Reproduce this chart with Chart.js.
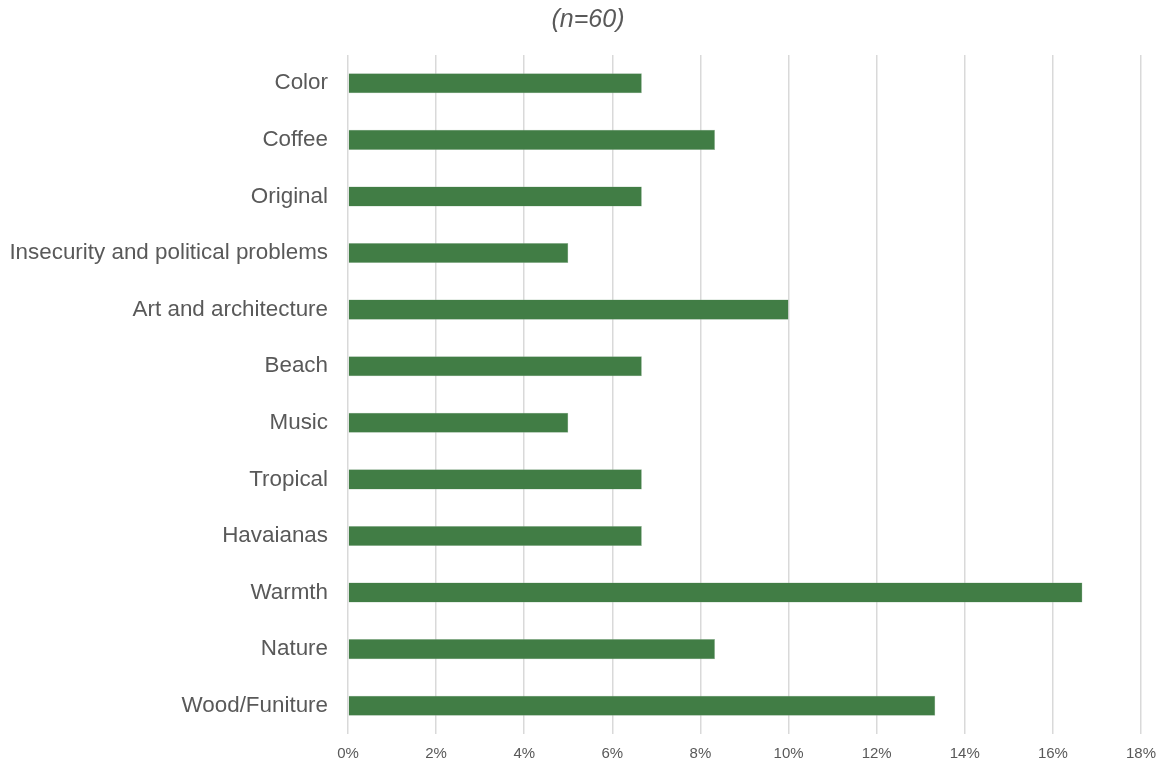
<!DOCTYPE html>
<html>
<head>
<meta charset="utf-8">
<script src="https://cdn.jsdelivr.net/npm/chart.js@4/dist/chart.umd.min.js"></script>
<style>
	html, body { margin: 0; padding: 0; background: #fff; }
	#wrap { width: 1160px; height: 765px; }
</style>
</head>
<body>
<div id="wrap"><canvas id="cnvChart"></canvas></div>
<script>
var categorias = ["Color", "Coffee", "Original", "Insecurity and political problems", "Art and architecture", "Beach", "Music", "Tropical", "Havaianas", "Warmth", "Nature", "Wood/Funiture"];
var porcentajes = [6.67, 8.33, 6.67, 5.0, 10.0, 6.67, 5.0, 6.67, 6.67, 16.67, 8.33, 13.33];
var ticksX = [0, 2, 4, 6, 8, 10, 12, 14, 16, 18];
var titulo = "(n=60)";

var gris = "#595959";

// titulo dibujado a mano para poder correrlo un poco a la derecha
var pluginTitulo = {
	id: "tituloN",
	afterDraw: function(chart){
		var ctx = chart.ctx;
		ctx.save();
		ctx.fillStyle = gris;
		ctx.font = "italic 25px 'Liberation Sans', Arial, sans-serif";
		ctx.textAlign = "center";
		ctx.textBaseline = "middle";
		ctx.fillText(titulo, 588, 20);
		ctx.restore();
	}
};

new Chart(document.getElementById("cnvChart").getContext("2d"), {
	type: "bar",
	data: {
		labels: categorias,
		datasets: [{
			label: "Share",
			data: porcentajes,
			backgroundColor: "#417D45",
			borderColor: "#9dbb9f",
			borderWidth: 0.5,
			categoryPercentage: 1,
			barPercentage: 0.355
		}]
	},
	plugins: [pluginTitulo],
	options: {
		indexAxis: "y",
		responsive: true,
		maintainAspectRatio: false,
		animation: false,
		layout: { padding: { left: 0, right: 19, top: 55, bottom: 0 } },
		plugins: {
			legend: { display: false },
			tooltip: { enabled: false },
			title: { display: false }
		},
		scales: {
			x: {
				min: 0,
				max: 18,
				afterBuildTicks: function(scale){
					scale.ticks = ticksX.map(function(v){ return { value: v }; });
				},
				afterFit: function(scale){
					scale.height = 31;
					scale.paddingLeft = 0;
					scale.paddingRight = 0;
				},
				grid: { color: "#d9d9d9", lineWidth: 1.5, drawTicks: false },
				border: { display: false },
				ticks: {
					color: gris,
					padding: 11,
					maxRotation: 0,
					font: { family: "'Liberation Sans', Arial, sans-serif", size: 15 },
					callback: function(v){ return v + "%"; }
				}
			},
			y: {
				grid: { display: false, drawTicks: false },
				border: { display: false },
				afterFit: function(scale){
					scale.width = 348;
					scale.paddingTop = 0;
					scale.paddingBottom = 0;
				},
				ticks: {
					color: gris,
					padding: 20,
					font: { family: "'Liberation Sans', Arial, sans-serif", size: 22.4 }
				}
			}
		}
	}
});
</script>
</body>
</html>
